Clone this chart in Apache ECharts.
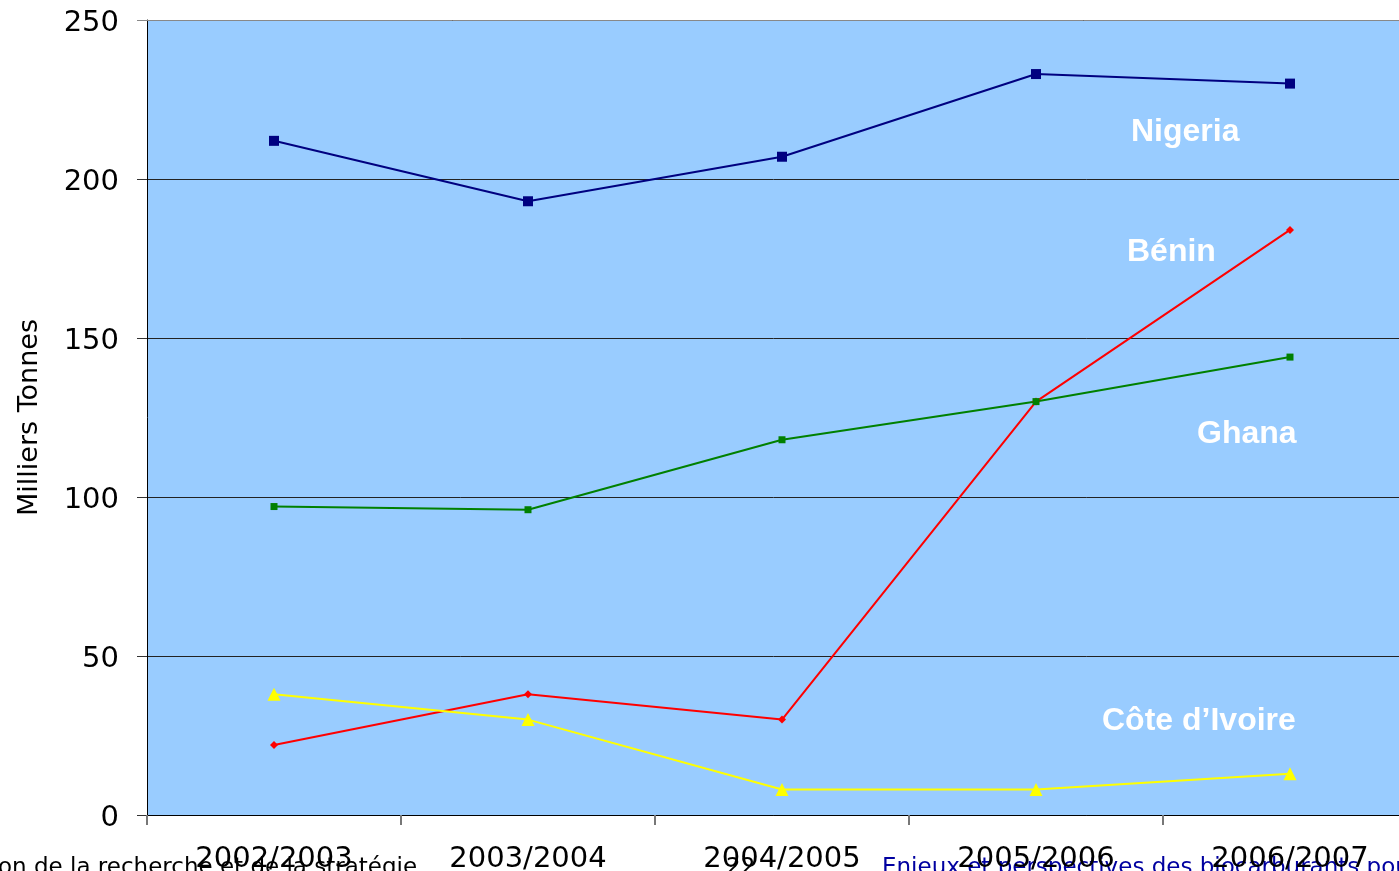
<!DOCTYPE html>
<html>
<head>
<meta charset="utf-8">
<script src="https://cdn.jsdelivr.net/npm/echarts@6/dist/echarts.min.js"></script>
<style>
  html, body { margin: 0; padding: 0; background: #ffffff; overflow: hidden; }
  #chart { width: 1399px; height: 871px; }
</style>
</head>
<body>
<div id="chart"></div>
<script>
// Production (milliers de tonnes) par campagne
const campaigns = ['2002/2003', '2003/2004', '2004/2005', '2005/2006', '2006/2007'];
const nigeria = [212, 193, 207, 233, 230];
const benin = [22, 38, 30, 130, 184];
const ghana = [97, 96, 118, 130, 144];
const coteIvoire = [38, 30, 8, 8, 13];
const yTicks = [0, 50, 100, 150, 200, 250];

const AXIS_FONT = 'DejaVu Sans, Verdana, sans-serif';
const LABEL_FONT = 'Liberation Sans, Arial, sans-serif';

const chart = echarts.init(document.getElementById('chart'), null, { renderer: 'canvas' });

function line(name, data, color, symbol, size) {
  return {
    name, type: 'line', data,
    symbol, symbolSize: size,
    lineStyle: { color, width: 2 },
    itemStyle: { color, borderWidth: 0 },
    showAllSymbol: true,
    animation: false,
    z: 3
  };
}

chart.setOption({
  backgroundColor: '#ffffff',
  animation: false,
  grid: {
    left: 147, top: 20, width: 1270, height: 795,
    outerBoundsMode: 'none', containLabel: false,
    show: true, backgroundColor: '#99CCFF', borderWidth: 0
  },
  xAxis: {
    type: 'category',
    data: campaigns,
    boundaryGap: true,
    axisLine: { show: true, lineStyle: { color: '#000000', width: 1 } },
    axisTick: { show: true, length: 10, alignWithLabel: false, lineStyle: { color: '#777777', width: 2 } },
    axisLabel: { color: '#000000', fontFamily: AXIS_FONT, fontSize: 29, margin: 30 },
    splitLine: { show: false }
  },
  yAxis: {
    type: 'value',
    min: yTicks[0], max: yTicks[yTicks.length - 1], interval: 50,
    name: 'Milliers Tonnes',
    nameLocation: 'middle',
    nameGap: 104,
    nameRotate: 90,
    nameTextStyle: { color: '#000000', fontFamily: AXIS_FONT, fontSize: 27 },
    axisLine: { show: true, lineStyle: { color: '#000000', width: 1 } },
    axisTick: { show: true, length: 10, inside: false, lineStyle: { color: '#333333', width: 1 } },
    axisLabel: {
      margin: 28,
      formatter: '{v|{value}}',
      rich: { v: { color: '#000000', fontFamily: AXIS_FONT, fontSize: 29, padding: [6, 0, 0, 0] } }
    },
    splitLine: { show: true, lineStyle: { color: '#222222', width: 1 } }
  },
  series: [
    line('Nigeria', nigeria, '#000080', 'rect', 10),
    line('Bénin', benin, '#FF0000', 'diamond', 8),
    line('Ghana', ghana, '#008000', 'rect', 7),
    line("Côte d’Ivoire", coteIvoire, '#FFFF00', 'triangle', 13)
  ],
  graphic: [
    // top border of the plot area
    { type: 'line', shape: { x1: 137, y1: 20.5, x2: 1399, y2: 20.5 }, style: { stroke: '#888888', lineWidth: 1 }, z: 10 },
    // series names
    { type: 'text', left: 1131, top: 116, style: { text: 'Nigeria', fill: '#ffffff', font: 'bold 32px ' + LABEL_FONT } },
    { type: 'text', left: 1127, top: 236, style: { text: 'Bénin', fill: '#ffffff', font: 'bold 32px ' + LABEL_FONT } },
    { type: 'text', left: 1197, top: 418, style: { text: 'Ghana', fill: '#ffffff', font: 'bold 32px ' + LABEL_FONT } },
    { type: 'text', left: 1102, top: 705, style: { text: 'Côte d’Ivoire', fill: '#ffffff', font: 'bold 32px ' + LABEL_FONT } },
    // page footer
    { type: 'text', left: -2, top: 857, z: 0, style: { text: 'on de la recherche et de la stratégie', fill: '#000000', font: '23px ' + AXIS_FONT } },
    { type: 'text', left: 726, top: 857, z: 0, style: { text: '22', fill: '#000000', font: '23px ' + AXIS_FONT } },
    { type: 'text', left: 882, top: 857, z: 0, style: { text: 'Enjeux et perspectives des biocarburants pour l’Afrique', fill: '#0000A0', font: '23px ' + AXIS_FONT } }
  ]
});
</script>
</body>
</html>
